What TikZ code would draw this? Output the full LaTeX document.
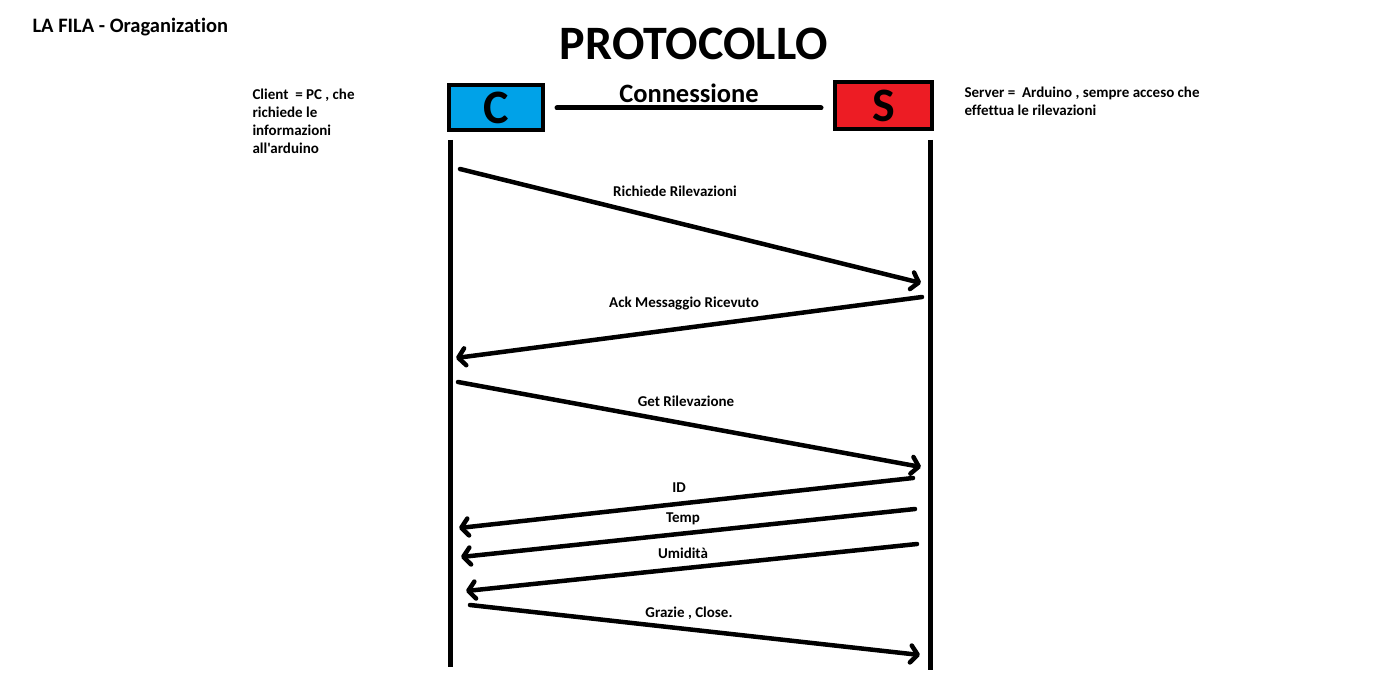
\documentclass[tikz,border=0pt]{standalone}
\usepackage{fontspec}
\setmainfont{Carlito}[Ligatures={NoCommon,TeXOff}]
\usepackage{xcolor}
\usetikzlibrary{arrows.meta,positioning}
\definecolor{paintblue}{RGB}{0,162,232}
\definecolor{paintred}{RGB}{237,28,36}
\tikzstyle{msg}=[draw,-{Straight Barb[length=7pt,width=17pt,round]},line width=4.5pt,line cap=round]
\tikzstyle{life}=[draw,line width=5pt]
\tikzstyle{party}=[draw,line width=4pt,inner sep=0pt,font=\fontsize{48}{48}\selectfont\bfseries]
\tikzstyle{lbl}=[font=\fontsize{15}{18}\selectfont\bfseries]

\begin{document}
\begin{tikzpicture}[x=1pt,y=-1pt]
\useasboundingbox[fill=white] (0,0) rectangle (1392,698);
\node [anchor=west,font=\fontsize{20.5}{24}\selectfont\bfseries] (title) at (29,27) {LA FILA - Oraganization};
\node [font=\fontsize{48}{48}\selectfont\bfseries] (proto) at (694,44) {PROTOCOLLO};

\node [party,fill=paintblue,minimum width=94pt,minimum height=45pt] (C) at (496,107.5) {C};
\node [party,fill=paintred,minimum width=97pt,minimum height=47pt] (S) at (883.5,105.5) {S};
\draw [line width=5pt,line cap=round] ([xshift=12pt]C.east |- 0,108) -- ([xshift=-12pt]S.west |- 0,108);
\node [font=\fontsize{26.5}{26}\selectfont\bfseries] (conn) at (689,93) {Connessione};

\node [lbl,anchor=north west,align=left] (client) at (249,85) {Client~ = PC , che\\richiede le\\informazioni\\all'arduino};
\node [lbl,anchor=north west,align=left] (server) at (961,83) {Server = ~Arduino , sempre acceso che\\effettua le rilevazioni};

% linee di vita
\coordinate (cTop) at (450,140);
\coordinate (cBot) at (450,667);
\coordinate (sTop) at (930,140);
\coordinate (sBot) at (930,670);
\draw [life] (cTop) -- (cBot);
\draw [life] (sTop) -- (sBot);

% messaggi
\coordinate (c1) at (460,169); \coordinate (s1) at (921,283);
\coordinate (s2) at (922,297); \coordinate (c2) at (456,358);
\coordinate (c3) at (458,382); \coordinate (s3) at (921,467);
\coordinate (s4) at (913,478); \coordinate (c4) at (459,528);
\coordinate (s5) at (915,509); \coordinate (c5) at (461,557);
\coordinate (s6) at (917,544); \coordinate (c6) at (466,591);
\coordinate (c7) at (470,605); \coordinate (s7) at (920,655);

\draw [msg] (c1) -- (s1);
\draw [msg] (s2) -- (c2);
\draw [msg] (c3) -- (s3);
\draw [msg] (s4) -- (c4);
\draw [msg] (s5) -- (c5);
\draw [msg] (s6) -- (c6);
\draw [msg] (c7) -- (s7);

\node [lbl] (m1) at (675,191) {Richiede Rilevazioni};
\node [lbl] (m2) at (684,304) {Ack Messaggio Ricevuto};
\node [lbl] (m3) at (686,401) {Get Rilevazione};
\node [lbl] (m4) at (679,488) {ID};
\node [lbl] (m5) at (683,519) {Temp};
\node [lbl] (m6) at (683,553) {Umidità};
\node [lbl] (m7) at (689,613) {Grazie , Close.};
\end{tikzpicture}
\end{document}
